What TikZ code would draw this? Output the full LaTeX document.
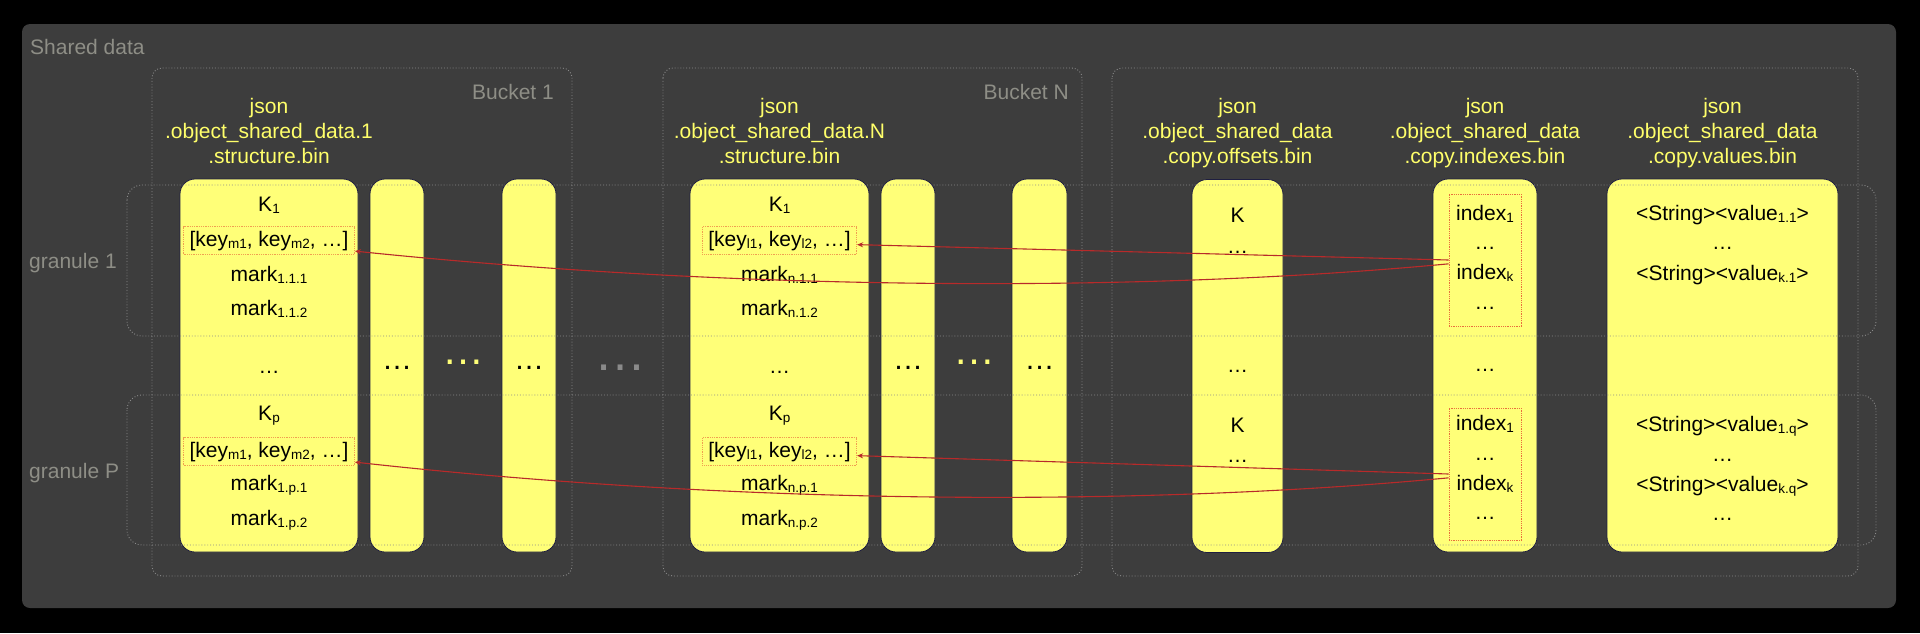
\documentclass[tikz,border=0pt]{standalone}
\usepackage{fontspec}
\setmainfont{Liberation Sans}
\usetikzlibrary{arrows.meta}

\definecolor{panelbg}{HTML}{3D3D3D}
\definecolor{framegray}{HTML}{8A8A8A}
\definecolor{labelgray}{HTML}{8E8E86}
\definecolor{colfill}{HTML}{FFFF78}
\definecolor{coledge}{HTML}{1E1E40}
\definecolor{headyellow}{HTML}{FFFF6A}
\definecolor{keyedge}{HTML}{F0A050}
\definecolor{idxedge}{HTML}{E8703C}
\definecolor{linkred}{HTML}{B82A2A}

\newcommand{\txtfont}{\fontsize{21}{25}\selectfont}
\newcommand{\lowsub}[1]{\raisebox{-2.5pt}{\fontsize{13.5}{14}\selectfont #1}}

\tikzset{
  frame/.style = {draw=framegray, dotted, line width=0.9pt,
    rounded corners=10pt},
  granule/.style = {draw=framegray, dotted, line width=0.9pt,
    rounded corners=15pt},
  column/.style = {draw=coledge, fill=colfill, line width=0.8pt,
    rounded corners=15pt, minimum height=373pt, inner sep=0pt},
  lbl/.style = {text=labelgray, font=\txtfont, inner sep=0pt},
  header/.style = {text=headyellow, font=\txtfont, align=center,
    anchor=north, inner sep=0pt},
  cell/.style = {font=\txtfont, anchor=base, inner sep=0pt},
  keybox/.style = {cell, draw=keyedge, densely dotted, line width=0.8pt,
    inner xsep=6pt, inner ysep=4pt},
  idxbox/.style = {draw=idxedge, densely dotted, line width=0.8pt,
    minimum width=72pt, minimum height=132pt, inner sep=0pt},
  coldots/.style = {anchor=base, inner sep=0pt,
    font=\fontsize{30}{30}\selectfont},
  link/.style = {draw=linkred, line width=1.1pt,
    -{Stealth[length=6pt, width=5pt]}},
}

\begin{document}
\begin{tikzpicture}[x=1pt, y=-1pt]
  \useasboundingbox (0,0) rectangle (1920,633);
  \fill[black] (0,0) rectangle (1920,633);
  \fill[panelbg, rounded corners=8pt] (22,24) rectangle (1896,608);
  \node[lbl, anchor=base west] (shared) at (30,54) {Shared data};

  % bucket frames
  \draw[frame] (152,68) rectangle (572,576);
  \draw[frame] (663,68) rectangle (1082,576);
  \draw[frame] (1112,68) rectangle (1858,576);
  \node[lbl, anchor=base east] (bucket1) at (554,99) {Bucket 1};
  \node[lbl, anchor=base east] (bucketN) at (1069,99) {Bucket N};

  % file names
  \node[header] (h1) at (269,98)
    {json\\.object\_shared\_data.1\\.structure.bin};
  \node[header] (hN) at (779.5,98)
    {json\\.object\_shared\_data.N\\.structure.bin};
  \node[header] (hoff) at (1237.5,98)
    {json\\.object\_shared\_data\\.copy.offsets.bin};
  \node[header] (hidx) at (1485,98)
    {json\\.object\_shared\_data\\.copy.indexes.bin};
  \node[header] (hval) at (1722.5,98)
    {json\\.object\_shared\_data\\.copy.values.bin};

  % columns
  \node[column, minimum width=178pt] (b1s) at (269,365.5) {};
  \node[column, minimum width=54pt] (b1c2) at (397,365.5) {};
  \node[column, minimum width=54pt] (b1c3) at (529,365.5) {};
  \node[column, minimum width=179pt] (bNs) at (779.5,365.5) {};
  \node[column, minimum width=54pt] (bNc2) at (908,365.5) {};
  \node[column, minimum width=55pt] (bNc3) at (1039.5,365.5) {};
  \node[column, minimum width=91pt] (offs) at (1237.5,366) {};
  \node[column, minimum width=104pt] (idxc) at (1485,365.5) {};
  \node[column, minimum width=231pt] (vals) at (1722.5,365.5) {};

  % granules
  \draw[granule] (127,185) rectangle (1876,336);
  \draw[granule] (127,395) rectangle (1876,545);
  \node[lbl, anchor=base west] (g1) at (29,268) {granule 1};
  \node[lbl, anchor=base west] (gP) at (29,478) {granule P};

  % structure columns
  \foreach \cx/\bid/\kl/\mk in {269/b1/m/1, 779.5/bN/l/n} {
    \node[cell] (\bid k1) at (\cx,211) {K\lowsub{1}};
    \node[keybox] (\bid key1) at (\cx,246)
      {[key\lowsub{\kl1}, key\lowsub{\kl2}, …]};
    \node[cell] (\bid m11) at (\cx,281) {mark\lowsub{\mk.1.1}};
    \node[cell] (\bid m12) at (\cx,315) {mark\lowsub{\mk.1.2}};
    \node[cell] (\bid mid) at (\cx,373) {…};
    \node[cell] (\bid k2) at (\cx,420) {K\lowsub{p}};
    \node[keybox] (\bid key2) at (\cx,457)
      {[key\lowsub{\kl1}, key\lowsub{\kl2}, …]};
    \node[cell] (\bid m21) at (\cx,490) {mark\lowsub{\mk.p.1}};
    \node[cell] (\bid m22) at (\cx,525) {mark\lowsub{\mk.p.2}};
  }
  \foreach \cx/\nm in {397/d1, 529/d2, 908/d3, 1039.5/d4}
    \node[coldots] (\nm) at (\cx,369) {…};
  \node[coldots, text=colfill, font=\fontsize{42}{42}\selectfont]
    (y1) at (463,364) {…};
  \node[coldots, text=colfill, font=\fontsize{42}{42}\selectfont]
    (y2) at (974,364) {…};
  \node[coldots, text=framegray, font=\fontsize{52}{52}\selectfont]
    (gap) at (620,370) {…};

  % offsets
  \node[cell] (ok1) at (1237.5,222) {K};
  \node[cell] (od1) at (1237.5,253) {…};
  \node[cell] (odm) at (1237.5,372) {…};
  \node[cell] (ok2) at (1237.5,432) {K};
  \node[cell] (od2) at (1237.5,462) {…};

  % indexes
  \node[idxbox] (idx1) at (1485,260) {};
  \node[cell] (i11) at (1485,220) {index\lowsub{1}};
  \node[cell] (i12) at (1485,249.5) {…};
  \node[cell] (i13) at (1485,279) {index\lowsub{k}};
  \node[cell] (i14) at (1485,309.5) {…};
  \node[cell] (im) at (1485,371) {…};
  \node[idxbox] (idx2) at (1485,474) {};
  \node[cell] (i21) at (1485,430) {index\lowsub{1}};
  \node[cell] (i22) at (1485,460) {…};
  \node[cell] (i23) at (1485,490) {index\lowsub{k}};
  \node[cell] (i24) at (1485,519.5) {…};

  % values
  \node[cell] (v11) at (1722.5,220) {<String><value\lowsub{1.1}>};
  \node[cell] (v12) at (1722.5,249.5) {…};
  \node[cell] (v13) at (1722.5,280) {<String><value\lowsub{k.1}>};
  \node[cell] (v21) at (1722.5,431) {<String><value\lowsub{1.q}>};
  \node[cell] (v22) at (1722.5,461) {…};
  \node[cell] (v23) at (1722.5,491) {<String><value\lowsub{k.q}>};
  \node[cell] (v24) at (1722.5,520) {…};

  % index -> keys
  \draw[link] (idx1.west) -- (bNkey1.-3);
  \draw[link] (idx1.186)
    .. controls (1150,292) and (750,292) .. (b1key1.-7);
  \draw[link] (idx2.west) -- (bNkey2.-3);
  \draw[link] (idx2.186)
    .. controls (1150,506) and (750,506) .. (b1key2.-7);
\end{tikzpicture}
\end{document}
